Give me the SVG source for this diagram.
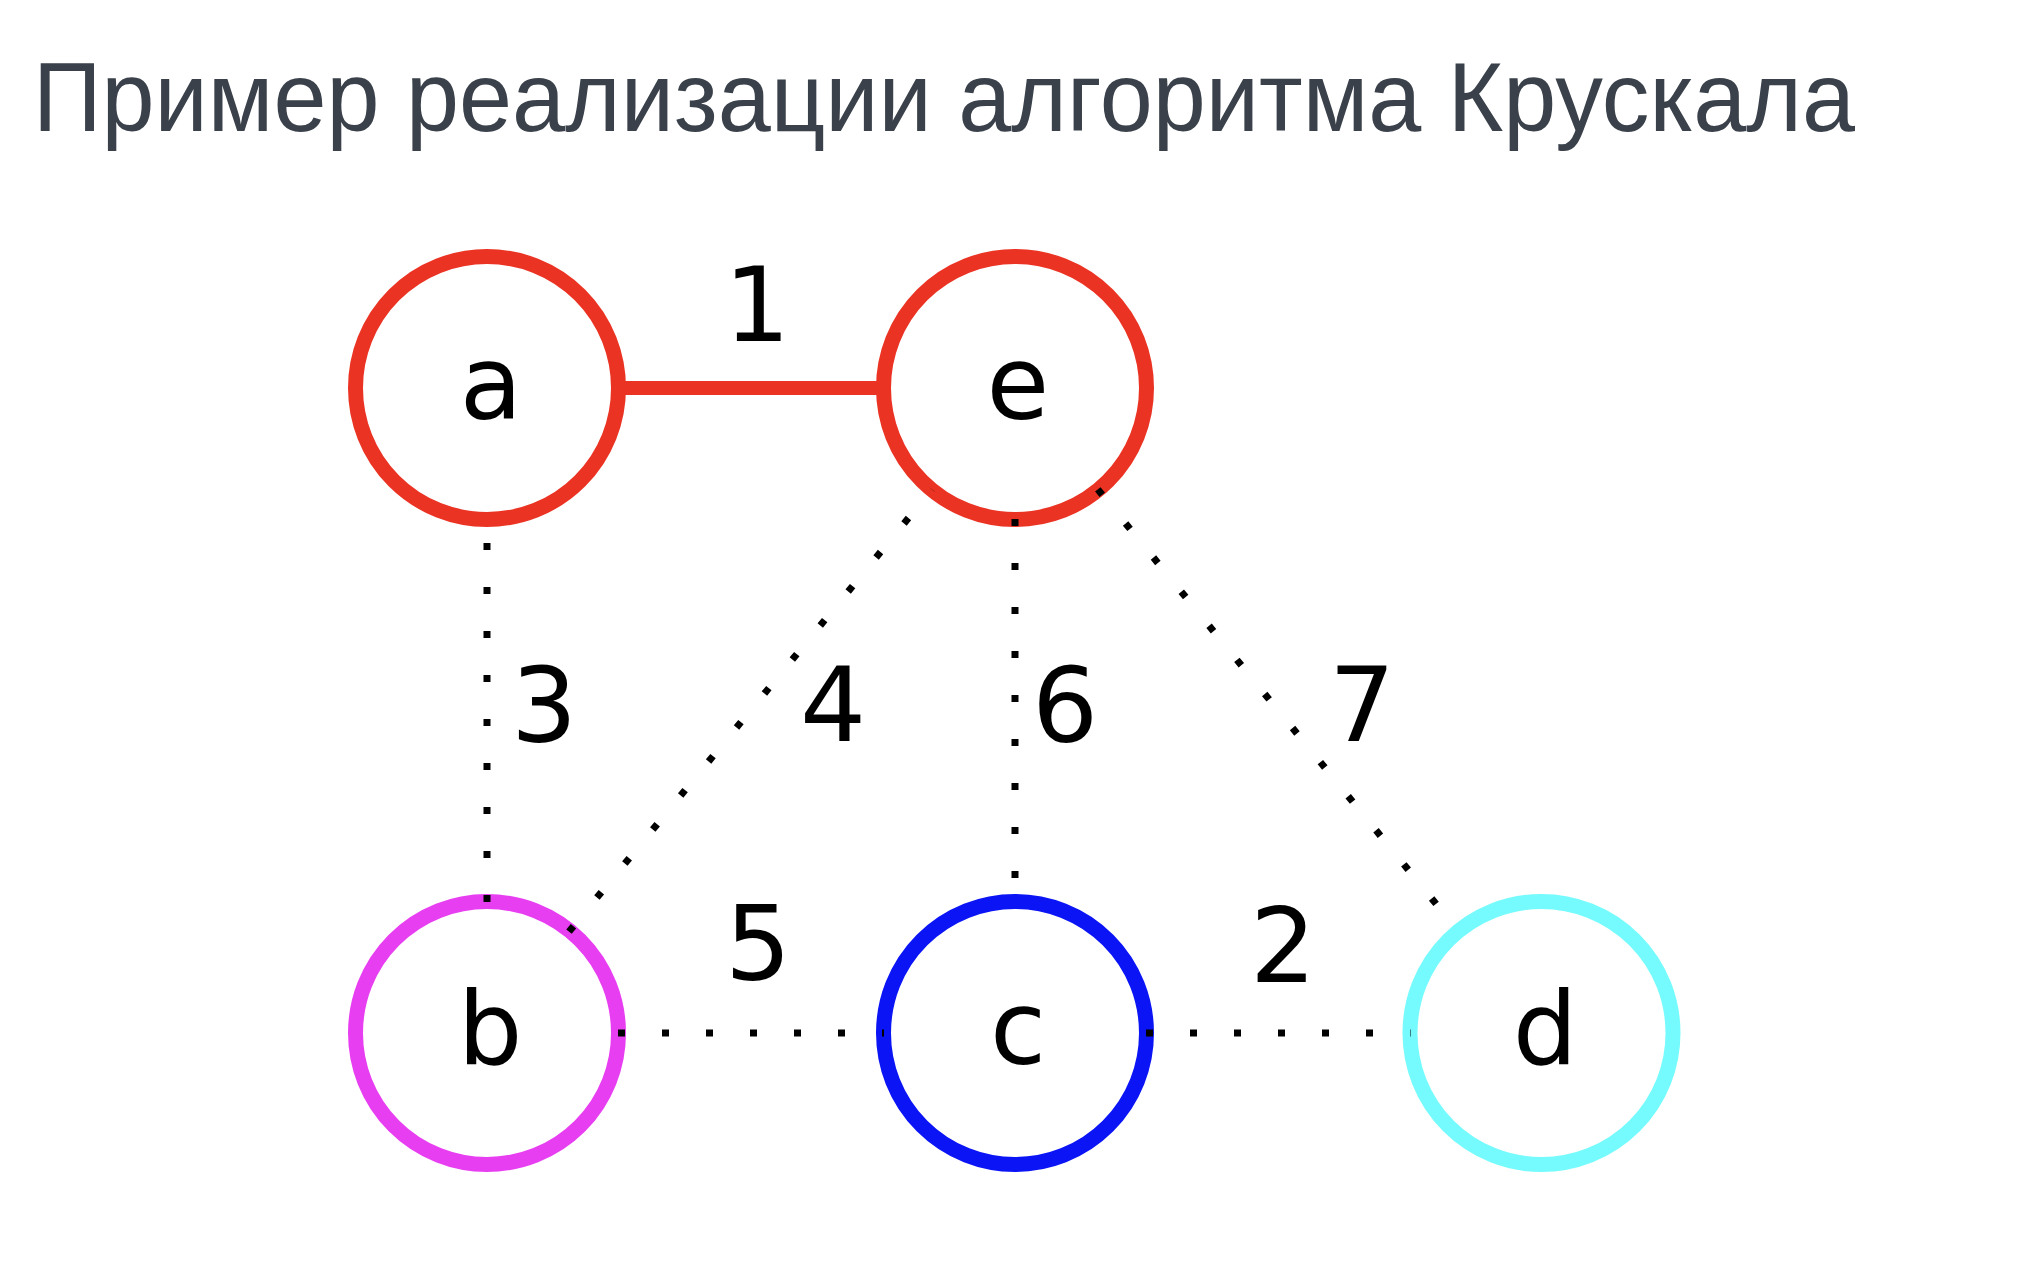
<svg xmlns="http://www.w3.org/2000/svg" width="2042" height="1280" viewBox="0 0 2042 1280">
<style>
.title{font-family:"Liberation Sans",Arial,sans-serif;font-size:99px;fill:#3A414A}
.node{fill:#fff;stroke-width:15}
.nl{font-family:"DejaVu Sans",sans-serif;font-size:102px;fill:#000;text-anchor:middle}
.el{font-family:"DejaVu Sans",sans-serif;font-size:104px;fill:#000;text-anchor:middle}
.dot{stroke:#000;stroke-width:7;stroke-dasharray:7 37;stroke-linecap:butt;fill:none}
</style>
<rect width="2042" height="1280" fill="#fff"/>
<text class="title" x="33" y="131" textLength="1822" lengthAdjust="spacingAndGlyphs">Пример реализации алгоритма Крускала</text>
<g id="nodes">
<g id="node-a"><circle class="node" cx="487" cy="388" r="131.5" stroke="#EB3324"/><text class="nl" x="491" y="419">a</text></g>
<g id="node-e"><circle class="node" cx="1015" cy="388" r="131.5" stroke="#EB3324"/><text class="nl" x="1018" y="419">e</text></g>
<g id="node-b"><circle class="node" cx="487" cy="1033" r="131.5" stroke="#E83EF1"/><text class="nl" x="490" y="1064">b</text></g>
<g id="node-c"><circle class="node" cx="1015" cy="1033" r="131.5" stroke="#0A14F5"/><text class="nl" x="1018" y="1064">c</text></g>
<g id="node-d"><circle class="node" cx="1541.5" cy="1033" r="131.5" stroke="#75FBFD"/><text class="nl" x="1545" y="1064">d</text></g>
</g>
<g id="edges">
<line x1="619" y1="388" x2="883" y2="388" stroke="#EB3324" stroke-width="14"/>
<line class="dot" x1="487" y1="902" x2="487" y2="519"/>
<line class="dot" x1="1015" y1="519" x2="1015" y2="902"/>
<line class="dot" x1="569.0" y1="931.6" x2="932.0" y2="489.4"/>
<line class="dot" x1="1097.8" y1="489.4" x2="1458.7" y2="931.6"/>
<line class="dot" x1="618" y1="1033" x2="884" y2="1033"/>
<line class="dot" x1="1146" y1="1033" x2="1410.5" y2="1033"/>
</g>
<g id="edge-labels">
<text class="el" x="757" y="341">1</text>
<text class="el" x="1283" y="982">2</text>
<text class="el" x="544" y="742">3</text>
<text class="el" x="833" y="741">4</text>
<text class="el" x="758" y="980">5</text>
<text class="el" x="1065" y="742">6</text>
<text class="el" x="1362" y="741">7</text>
</g>
</svg>
